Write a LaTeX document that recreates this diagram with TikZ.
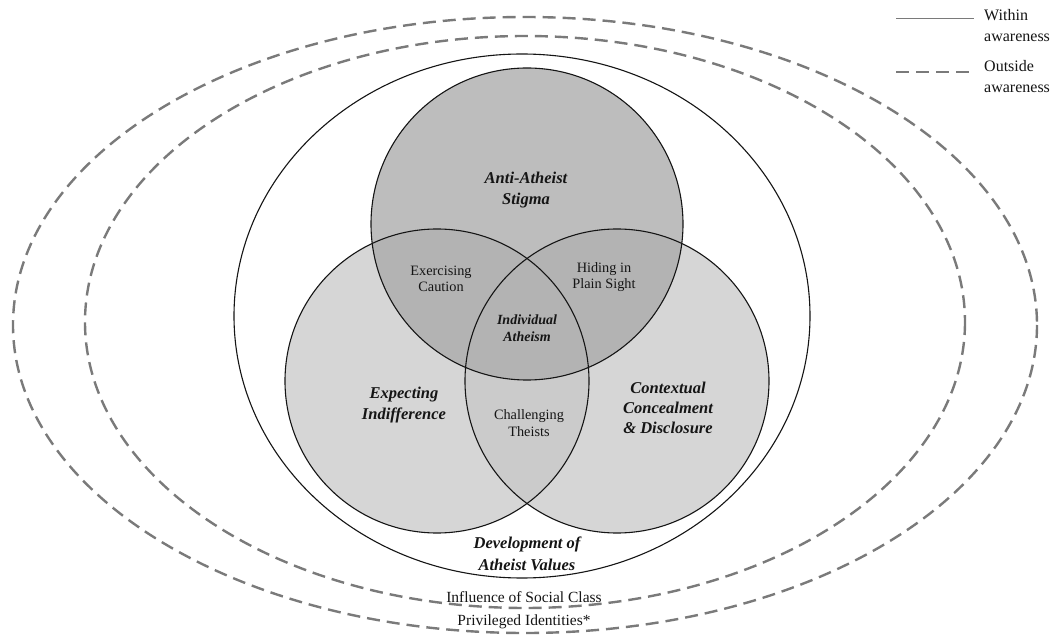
\documentclass[tikz,border=0pt]{standalone}
\usepackage{fontspec}
\setmainfont{Liberation Serif}
\definecolor{lightfill}{HTML}{D6D6D6}
\definecolor{midfill}{HTML}{CBCBCB}
\definecolor{topfill}{HTML}{BDBDBD}
\definecolor{darkfill}{HTML}{B3B3B3}
\definecolor{dashgray}{HTML}{7A7A7A}
\definecolor{inkc}{HTML}{151515}
\begin{document}
\begin{tikzpicture}[x=1pt,y=-1pt,
  dashedring/.style={draw=dashgray, line width=2.4pt, dash pattern=on 13pt off 7pt},
  ring/.style={draw=inkc, line width=1.1pt},
  mainlbl/.style={font=\fontsize{16.5}{21.5}\selectfont\bfseries\itshape, align=center, text=inkc},
  sublbl/.style={font=\fontsize{14.3}{16.5}\selectfont, align=center, text=inkc},
  outerlbl/.style={font=\fontsize{15.5}{18}\selectfont, align=center, text=inkc},
  legendlbl/.style={font=\fontsize{16}{21}\selectfont, align=left, text=inkc, anchor=west, inner sep=0pt}]
\useasboundingbox (0,0) rectangle (1053,636);
\fill[white] (0,0) rectangle (1053,636);

% outer rings
\draw[dashedring] (525,325) ellipse [x radius=512, y radius=308];
\draw[dashedring] (525,322) ellipse [x radius=440, y radius=286];
\draw[ring] (522,316) ellipse [x radius=288, y radius=262];

% Venn centres
\coordinate (T) at (527,224);
\coordinate (L) at (437,381);
\coordinate (R) at (617,381);

% fills
\fill[lightfill] (L) circle [radius=152];
\fill[lightfill] (R) circle [radius=152];
\begin{scope}
  \clip (L) circle [radius=152];
  \fill[midfill] (R) circle [radius=152];
\end{scope}
\fill[topfill] (T) circle [radius=156];
\begin{scope}
  \clip (T) circle [radius=156];
  \fill[darkfill] (L) circle [radius=152];
  \fill[darkfill] (R) circle [radius=152];
\end{scope}

% outlines
\draw[ring] (L) circle [radius=152];
\draw[ring] (R) circle [radius=152];
\draw[ring] (T) circle [radius=156];

% labels
\node[mainlbl] (stigma) at (526,190) {Anti-Atheist\\Stigma};
\node[sublbl] (caution) at (441,279) {Exercising\\Caution};
\node[sublbl] (hiding) at (604,277) {Hiding in\\Plain Sight};
\node[mainlbl, font=\fontsize{14}{17}\selectfont\bfseries\itshape] (indiv) at (527,328) {Individual\\Atheism};
\node[mainlbl] (expect) at (404,405) {Expecting\\Indifference};
\node[sublbl] (challenge) at (529,423) {Challenging\\Theists};
\node[mainlbl, font=\fontsize{16.5}{20}\selectfont\bfseries\itshape] (context) at (668,408) {Contextual\\Concealment\\\& Disclosure};
\node[mainlbl] (devel) at (527,554) {Development of\\Atheist Values};
\node[outerlbl] (social) at (524,597) {Influence of Social Class};
\node[outerlbl] (privileged) at (524,622) {Privileged Identities*};

% legend
\coordinate (s1) at (896,19);
\coordinate (s2) at (974,19);
\draw[dashgray, line width=1pt] (s1) -- (s2);
\node[legendlbl] (within) at (984,26) {Within\\awareness};
\coordinate (d1) at (896,72);
\coordinate (d2) at (969,72);
\draw[dashgray, line width=2.4pt, dash pattern=on 13pt off 7pt] (d1) -- (d2);
\node[legendlbl] (outside) at (984,77) {Outside\\awareness};
\end{tikzpicture}
\end{document}
